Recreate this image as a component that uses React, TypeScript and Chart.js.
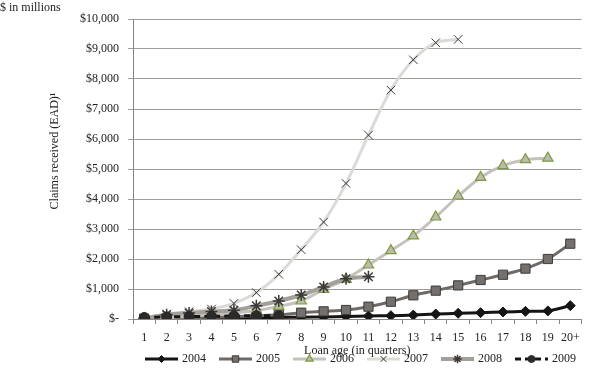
import React, { useEffect, useRef } from 'react';
import { Chart, registerables } from 'chart.js';
import { drawPoint } from 'chart.js/helpers';

Chart.register(...registerables);

const FONT = "'Liberation Serif', 'Times New Roman', serif";

const quarters = ['1', '2', '3', '4', '5', '6', '7', '8', '9', '10', '11', '12', '13', '14', '15', '16', '17', '18', '19', '20+'];

const s2004 = [10, 20, 25, 30, 35, 40, 50, 60, 70, 85, 100, 110, 130, 165, 190, 210, 235, 255, 270, 445];
const s2005 = [10, 30, 45, 60, 80, 110, 140, 210, 255, 300, 410, 575, 790, 945, 1120, 1300, 1475, 1680, 2000, 2510];
const s2006 = [10, 40, 90, 140, 200, 280, 420, 600, 990, 1330, 1800, 2280, 2770, 3400, 4100, 4720, 5110, 5310, 5360, null];
const s2007 = [30, 170, 245, 330, 520, 880, 1490, 2310, 3230, 4520, 6130, 7630, 8640, 9210, 9320, null, null, null, null, null];
const s2008 = [20, 140, 200, 250, 290, 440, 600, 800, 1070, 1340, 1410, null, null, null, null, null, null, null, null, null];
const s2009 = [50, 70, 80, 90, 100, 110, 110, null, null, null, null, null, null, null, null, null, null, null, null, null];

const yTicks = [0, 1000, 2000, 3000, 4000, 5000, 6000, 7000, 8000, 9000, 10000];

const seriesNames = ['2004', '2005', '2006', '2007', '2008', '2009'];

const textPlugin = {
  id: 'textPlugin',
  afterDraw(chart: any) {
    const ctx = chart.ctx;
    ctx.save();
    ctx.fillStyle = '#222';
    ctx.font = `12px ${FONT}`;
    ctx.textBaseline = 'middle';
    ctx.textAlign = 'left';
    ctx.fillText('$ in millions', 0, 8);
    // y title
    ctx.save();
    ctx.translate(55, 151);
    ctx.rotate(-Math.PI / 2);
    ctx.textAlign = 'center';
    ctx.fillText('Claims received (EAD)¹', 0, 0);
    ctx.restore();
    // legend
    const ds = chart.data.datasets;
    const y = 359;
    for (let i = 0; i < ds.length; i++) {
      const d = ds[i];
      const x = 145 + i * 74;
      ctx.save();
      ctx.strokeStyle = d.borderColor;
      ctx.lineWidth = d.borderWidth;
      ctx.setLineDash(d.borderDash || []);
      ctx.beginPath();
      ctx.moveTo(x, y);
      ctx.lineTo(x + 33, y);
      ctx.stroke();
      ctx.setLineDash([]);
      ctx.fillStyle = d.pointBackgroundColor;
      ctx.strokeStyle = d.pointBorderColor;
      ctx.lineWidth = d.pointBorderWidth;
      drawPoint(ctx, { pointStyle: d.pointStyle, rotation: 0, radius: d.pointRadius * 0.7, borderWidth: d.pointBorderWidth }, x + 16.5, y);
      ctx.restore();
      ctx.fillStyle = '#222';
      ctx.fillText(d.label, x + 37, y);
    }
    ctx.restore();
  },
};

export default function App() {
  const ref = useRef<HTMLCanvasElement>(null);
  useEffect(() => {
    const canvas = ref.current;
    if (!canvas) return;
    const mk = (i: number, data: (number | null)[], o: any) => ({
      label: seriesNames[i],
      data,
      order: 6 - i,
      tension: 0.3,
      spanGaps: false,
      ...o,
    });
    const chart = new Chart(canvas, {
      type: 'line',
      data: {
        labels: quarters,
        datasets: [
          mk(0, s2004, { borderColor: '#151515', borderWidth: 3, pointStyle: 'rectRot', pointRadius: 5, pointBackgroundColor: '#151515', pointBorderColor: '#151515', pointBorderWidth: 1 }),
          mk(1, s2005, { borderColor: '#6e6a67', borderWidth: 3, pointStyle: 'rect', pointRadius: 6.5, pointBackgroundColor: '#74706d', pointBorderColor: '#3d3a38', pointBorderWidth: 1 }),
          mk(2, s2006, { borderColor: '#c5c1bc', borderWidth: 3, pointStyle: 'triangle', pointRadius: 6, pointBackgroundColor: '#bdb9b3', pointBorderColor: '#7c9c38', pointBorderWidth: 1.2 }),
          mk(3, s2007, { borderColor: '#dcdad6', borderWidth: 3, pointStyle: 'crossRot', pointRadius: 6, pointBackgroundColor: '#d8d6d2', pointBorderColor: '#3c3a38', pointBorderWidth: 1 }),
          mk(4, s2008, { borderColor: '#a39f9a', borderWidth: 4, pointStyle: 'star', pointRadius: 6, pointBackgroundColor: '#a39f9a', pointBorderColor: '#3c3a38', pointBorderWidth: 1.5 }),
          mk(5, s2009, { borderColor: '#151515', borderWidth: 3, borderDash: [6, 4], pointStyle: 'circle', pointRadius: 5, pointBackgroundColor: '#2a2a2a', pointBorderColor: '#2a2a2a', pointBorderWidth: 1 }),
        ],
      },
      options: {
        responsive: false,
        animation: false,
        devicePixelRatio: 1,
        layout: { padding: { top: 19, left: 0, right: 1, bottom: 15 } },
        plugins: { legend: { display: false }, tooltip: { enabled: false } },
        scales: {
          x: {
            type: 'category',
            offset: true,
            grid: { offset: true, drawOnChartArea: false, drawTicks: true, tickLength: 5, color: '#8a8580' },
            border: { color: '#8a8580', width: 1 },
            ticks: { color: '#222', font: { family: FONT, size: 12 }, padding: 7, maxRotation: 0, autoSkip: false },
            title: { display: true, text: 'Loan age (in quarters)', color: '#222', font: { family: FONT, size: 12 }, padding: { top: 0, bottom: 0 } },
            afterFit: (s: any) => { s.height = 39; },
          },
          y: {
            min: 0,
            max: 10000,
            afterBuildTicks: (s: any) => { s.ticks = yTicks.map((v) => ({ value: v })); },
            grid: { color: '#a19d98', lineWidth: 1, tickLength: 5, drawTicks: true },
            border: { color: '#8a8580', width: 1 },
            ticks: {
              color: '#222',
              font: { family: FONT, size: 12 },
              padding: 9,
              callback: (v: any) => (Number(v) === 0 ? '$-' : '$' + Number(v).toLocaleString('en-US')),
            },
            afterFit: (s: any) => { s.width = 133; },
          },
        },
      },
      plugins: [textPlugin],
    });
    return () => chart.destroy();
  }, []);
  return (
    <div style={{ position: 'absolute', left: 0, top: 0, width: 589, height: 373, background: '#fff' }}>
      <canvas ref={ref} width={589} height={373} />
    </div>
  );
}
